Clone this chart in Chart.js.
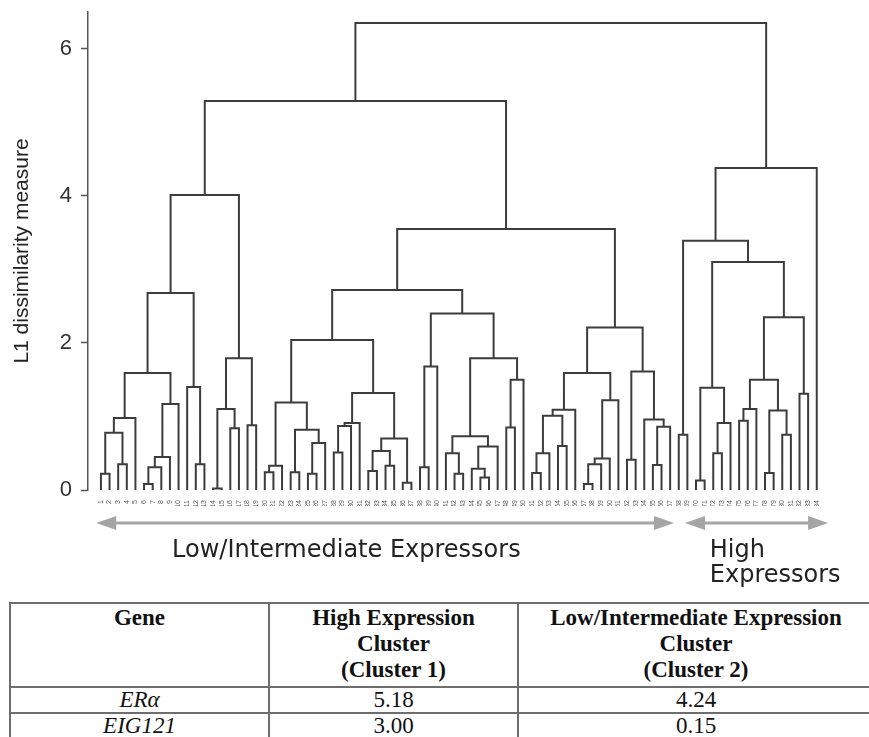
<!DOCTYPE html>
<html>
<head>
<meta charset="utf-8">
<script src="https://cdn.jsdelivr.net/npm/chart.js@4.4.0/dist/chart.umd.min.js"></script>
<style>
  html, body { margin: 0; padding: 0; background: #fff; }
  body { width: 869px; height: 737px; position: relative; overflow: hidden; }
  #chartBox { position: absolute; left: 0; top: 0; width: 869px; height: 590px; }
  #geneTable {
    position: absolute; left: 9px; top: 602px; width: 864px;
    border-collapse: collapse; table-layout: fixed;
    font-family: "Liberation Serif", "Times New Roman", serif; font-size: 23px; color: #111;
  }
  #geneTable th, #geneTable td { border: 2px solid #6e6e6e; text-align: center; padding: 0; line-height: 26px; }
  #geneTable th { vertical-align: top; font-weight: bold; padding-top: 1px; padding-bottom: 3px; }
  #geneTable td { height: 24px; line-height: 24px; }
  #geneTable td.gene { font-style: italic; }
</style>
</head>
<body>
<div id="chartBox"><canvas id="dendro"></canvas></div>
<table id="geneTable"></table>

<script>
// === Datos ===
// hojas en el orden del dendrograma (etiquetas ilegibles en el original)
const leafLabels = ["1","2","3","4","5","6","7","8","9","10","11","12","13","14","15","16","17","18","19","20",
  "21","22","23","24","25","26","27","28","29","30","31","32","33","34","35","36","37","38","39","40",
  "41","42","43","44","45","46","47","48","49","50","51","52","53","54","55","56","57","58","59","60",
  "61","62","63","64","65","66","67","68","69","70","71","72","73","74","75","76","77","78","79","80",
  "81","82","83","84"];

// fusiones tipo "linkage": 0-83 = hojas, 84+j = fusion j
const mergeLeft = [0, 2, 84, 86, 5, 88, 89, 90, 87, 11, 10, 92, 13, 15, 96, 17, 98, 95,
  19, 102, 22, 24, 105, 104, 103, 27, 109, 110, 31, 33, 112, 35, 114, 111, 108, 37, 119, 41, 40, 44, 43, 124, 122, 47, 127, 126, 120, 118,
  50, 132, 53, 133, 135, 56, 137, 138, 139, 136, 61, 64, 143, 63, 142, 141, 131, 101,
  67, 69, 71, 152, 151, 74, 155, 77, 79, 157, 156, 81, 160, 154, 150, 164, 149];
const mergeRight = [1, 3, 85, 4, 6, 7, 8, 9, 91, 12, 93, 94, 14, 16, 97, 18, 99, 100,
  20, 21, 23, 25, 26, 106, 107, 28, 29, 30, 32, 34, 113, 36, 115, 116, 117, 38, 39, 42, 121, 45, 123, 46, 125, 48, 49, 128, 129, 130,
  51, 52, 54, 134, 55, 57, 58, 59, 60, 140, 62, 65, 66, 144, 145, 146, 147, 148,
  68, 70, 72, 73, 153, 75, 76, 78, 80, 158, 159, 82, 161, 162, 163, 83, 165];
const mergeHeight = [0.22, 0.35, 0.78, 0.98, 0.08, 0.31, 0.45, 1.17, 1.59, 0.35, 1.40, 2.68, 0.02, 0.84, 1.10, 0.88, 1.79, 4.01,
  0.24, 0.33, 0.24, 0.22, 0.64, 0.82, 1.19, 0.51, 0.87, 0.91, 0.26, 0.33, 0.53, 0.10, 0.70, 1.32, 2.04, 0.31, 1.68, 0.22, 0.50, 0.17, 0.29, 0.59, 0.73, 0.85, 1.50, 1.79, 2.40, 2.72,
  0.23, 0.50, 0.60, 1.01, 1.09, 0.08, 0.35, 0.43, 1.22, 1.59, 0.41, 0.34, 0.86, 0.96, 1.61, 2.21, 3.55, 5.29,
  0.75, 0.13, 0.50, 0.91, 1.39, 0.94, 1.10, 0.23, 0.75, 1.08, 1.50, 1.31, 2.35, 3.10, 3.39, 4.38, 6.35];

const yTicks = [0, 2, 4, 6];

// grupos de expresion (primera y ultima hoja)
const groupNames = [["Low/Intermediate Expressors"], ["High", "Expressors"]];
const groupFirstLeaf = [1, 68];
const groupLastLeaf = [67, 84];

// tabla
const tableHeaders = ["Gene", "High Expression<br>Cluster<br>(Cluster 1)", "Low/Intermediate Expression<br>Cluster<br>(Cluster 2)"];
const geneNames = ["ERα", "EIG121"];
const cluster1Values = ["5.18", "3.00"];
const cluster2Values = ["4.24", "0.15"];

// === Coordenadas de los enlaces ===
const nodeX = leafLabels.map((_, i) => i + 1);
const nodeY = leafLabels.map(() => 0);
const linkPoints = [];
mergeHeight.forEach((h, j) => {
  const a = mergeLeft[j];
  const b = mergeRight[j];
  linkPoints.push(
    { x: nodeX[a], y: nodeY[a] },
    { x: nodeX[a], y: h },
    { x: nodeX[b], y: h },
    { x: nodeX[b], y: nodeY[b] },
    { x: nodeX[b], y: null } // corte
  );
  nodeX.push((nodeX[a] + nodeX[b]) / 2);
  nodeY.push(h);
});
const leafPositions = leafLabels.map((_, i) => i + 1);

// === Flechas y nombres de grupo ===
const groupArrows = {
  id: "groupArrows",
  afterDraw(chart) {
    const { ctx, chartArea } = chart;
    const xs = chart.scales.x;
    const y = chartArea.bottom + 33;
    const spans = [[groupFirstLeaf[0] - 0.55, groupLastLeaf[0] + 0.45], [groupFirstLeaf[1] + 0.72, groupLastLeaf[1] + 1.32]];
    const textStart = [9.25, 71.6];
    ctx.save();
    ctx.strokeStyle = "#a5a5a5";
    ctx.fillStyle = "#a5a5a5";
    ctx.lineWidth = 3;
    spans.forEach(([a, b]) => {
      const x1 = xs.getPixelForValue(a);
      const x2 = xs.getPixelForValue(b);
      ctx.beginPath();
      ctx.moveTo(x1 + 15, y);
      ctx.lineTo(x2 - 15, y);
      ctx.stroke();
      ctx.beginPath();
      ctx.moveTo(x1, y); ctx.lineTo(x1 + 20, y - 7); ctx.lineTo(x1 + 20, y + 7); ctx.closePath();
      ctx.moveTo(x2, y); ctx.lineTo(x2 - 20, y - 7); ctx.lineTo(x2 - 20, y + 7); ctx.closePath();
      ctx.fill();
    });
    ctx.fillStyle = "#222";
    ctx.font = '24px "DejaVu Sans", Verdana, sans-serif';
    ctx.textBaseline = "alphabetic";
    groupNames.forEach((lines, g) => {
      const tx = xs.getPixelForValue(textStart[g]);
      lines.forEach((t, k) => ctx.fillText(t, tx, y + 34 + k * 25));
    });
    ctx.restore();
  }
};

// === Grafico ===
const ctx = document.getElementById("dendro").getContext("2d");
const chart = new Chart(ctx, {
  type: "scatter",
  data: {
    datasets: [{
      data: linkPoints,
      showLine: true,
      spanGaps: false,
      borderColor: "#3c3c3c",
      borderWidth: 2,
      borderJoinStyle: "miter",
      pointRadius: 0,
      tension: 0
    }]
  },
  options: {
    responsive: true,
    maintainAspectRatio: false,
    devicePixelRatio: 1,
    animation: false,
    events: [],
    layout: { autoPadding: false, padding: { top: 12, left: 0, right: 35, bottom: 84 } },
    plugins: { legend: { display: false }, tooltip: { enabled: false } },
    scales: {
      x: {
        type: "linear",
        min: -0.5,
        max: 86,
        grid: { display: false },
        border: { display: false },
        afterBuildTicks: s => { s.ticks = leafPositions.map(v => ({ value: v })); },
        afterFit: s => {
          s.height = 16;
          s.paddingLeft = 0; s.paddingRight = 0; s.paddingTop = 0; s.paddingBottom = 0;
        },
        ticks: {
          autoSkip: false,
          minRotation: 90,
          maxRotation: 90,
          padding: 2,
          color: "#555",
          font: { family: "Liberation Sans", size: 7 },
          callback: (v, i) => leafLabels[i]
        }
      },
      y: {
        min: 0,
        max: 6.5,
        afterBuildTicks: s => { s.ticks = yTicks.map(v => ({ value: v })); },
        afterFit: s => {
          s.width = 88;
          s.paddingLeft = 0; s.paddingRight = 0; s.paddingTop = 0; s.paddingBottom = 0;
        },
        grid: { drawOnChartArea: false, drawTicks: true, tickLength: 7, tickColor: "#555", tickWidth: 1.5 },
        border: { display: true, color: "#555", width: 1.5 },
        ticks: {
          padding: 9,
          color: "#333",
          font: { family: "Liberation Sans", size: 22 }
        },
        title: {
          display: true,
          text: "L1 dissimilarity measure",
          color: "#222",
          padding: { top: 10, bottom: 0 },
          font: { family: "Liberation Sans", size: 21 }
        }
      }
    }
  },
  plugins: [groupArrows]
});

// === Tabla ===
const table = document.getElementById("geneTable");
table.innerHTML = `
  <colgroup><col style="width:259px"><col style="width:249px"><col style="width:356px"></colgroup>
  <tr>${tableHeaders.map(h => `<th>${h}</th>`).join("")}</tr>
  ${geneNames.map((g, i) => `<tr><td class="gene">${g}</td><td>${cluster1Values[i]}</td><td>${cluster2Values[i]}</td></tr>`).join("")}
`;
</script>
</body>
</html>
